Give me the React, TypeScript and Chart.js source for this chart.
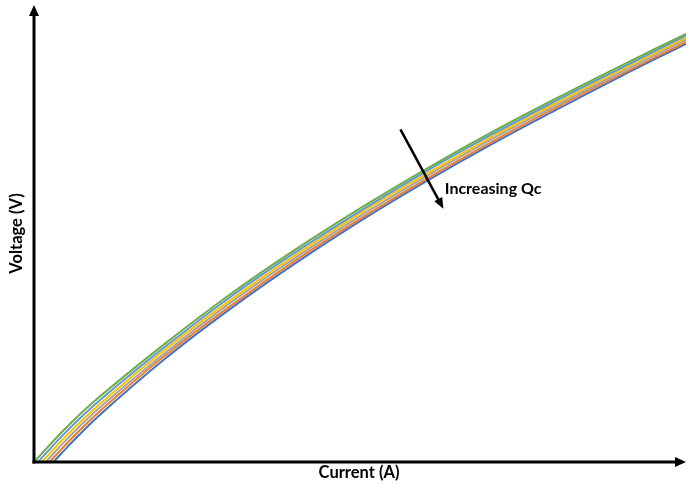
import React, { useEffect, useRef } from "react";
import { Chart, registerables } from "chart.js";

Chart.register(...registerables);

// Current (A) sample points shared by every curve after its own starting point
const currentSteps = [0.5, 1, 2, 3, 4, 5, 6, 7, 8, 9, 10];

// Where each curve leaves the current axis (V = 0)
const startCurrents = [0, 0.06, 0.12, 0.18, 0.24, 0.3];

// Voltage (V) for each Qc value, highest Qc first
const voltageQc6 = [0.76, 1.42, 2.58, 3.66, 4.64, 5.55, 6.4, 7.2, 7.95, 8.67, 9.37];
const voltageQc5 = [0.67, 1.34, 2.51, 3.6, 4.58, 5.49, 6.35, 7.15, 7.9, 8.62, 9.33];
const voltageQc4 = [0.58, 1.26, 2.45, 3.53, 4.52, 5.44, 6.29, 7.1, 7.85, 8.58, 9.28];
const voltageQc3 = [0.49, 1.18, 2.38, 3.47, 4.46, 5.38, 6.24, 7.05, 7.8, 8.53, 9.24];
const voltageQc2 = [0.4, 1.1, 2.32, 3.4, 4.4, 5.32, 6.18, 6.99, 7.75, 8.48, 9.19];
const voltageQc1 = [0.31, 1.02, 2.25, 3.34, 4.34, 5.27, 6.13, 6.94, 7.7, 8.44, 9.15];

const seriesVoltages = [voltageQc6, voltageQc5, voltageQc4, voltageQc3, voltageQc2, voltageQc1];
const seriesColors = ["#70AD47", "#5B9BD5", "#FFC000", "#A5A5A5", "#ED7D31", "#4472C4"];

const xTitle = "Current (A)";
const yTitle = "Voltage (V)";
const noteText = "Increasing Qc";
// Annotation arrow in data units: tail and head
const noteTail = { x: 5.62, y: 7.28 };
const noteHead = { x: 6.28, y: 5.54 };
const noteLabel = { x: 6.3, y: 5.97 };

const X_MAX = 10;
const Y_MAX = 10;

function arrowHead(ctx: CanvasRenderingContext2D, tx: number, ty: number, angle: number, len: number, half: number) {
  ctx.save();
  ctx.translate(tx, ty);
  ctx.rotate(angle);
  ctx.beginPath();
  ctx.moveTo(0, 0);
  ctx.lineTo(-len, -half);
  ctx.lineTo(-len, half);
  ctx.closePath();
  ctx.fill();
  ctx.restore();
}

const axesPlugin = {
  id: "arrowAxes",
  afterDatasetsDraw(chart: any) {
    const { ctx, chartArea } = chart;
    const { left, right, top, bottom } = chartArea;
    const xs = chart.scales.x;
    const ys = chart.scales.y;
    ctx.save();
    ctx.strokeStyle = "#000";
    ctx.fillStyle = "#000";
    ctx.lineWidth = 3;
    ctx.lineCap = "butt";
    // vertical axis
    ctx.beginPath();
    ctx.moveTo(left, bottom + 1.5);
    ctx.lineTo(left, top + 8);
    ctx.stroke();
    arrowHead(ctx, left, top, -Math.PI / 2, 11, 5);
    // horizontal axis
    ctx.beginPath();
    ctx.moveTo(left - 1.5, bottom);
    ctx.lineTo(right - 8, bottom);
    ctx.stroke();
    arrowHead(ctx, right, bottom, 0, 11, 5);

    // axis titles
    ctx.font = "bold 16.5px Lato, 'Open Sans', sans-serif";
    ctx.textAlign = "center";
    ctx.textBaseline = "middle";
    ctx.fillText(xTitle, (left + right) / 2 - 1, bottom + 11);
    ctx.save();
    ctx.translate(left - 17, (top + bottom) / 2);
    ctx.rotate(-Math.PI / 2);
    ctx.fillText(yTitle, 0, 0);
    ctx.restore();

    // Qc direction arrow
    const x1 = xs.getPixelForValue(noteTail.x);
    const y1 = ys.getPixelForValue(noteTail.y);
    const x2 = xs.getPixelForValue(noteHead.x);
    const y2 = ys.getPixelForValue(noteHead.y);
    const ang = Math.atan2(y2 - y1, x2 - x1);
    ctx.lineWidth = 2.5;
    ctx.beginPath();
    ctx.moveTo(x1, y1);
    ctx.lineTo(x2 - Math.cos(ang) * 8, y2 - Math.sin(ang) * 8);
    ctx.stroke();
    arrowHead(ctx, x2, y2, ang, 11, 4.5);

    ctx.font = "bold 16px Lato, 'Open Sans', sans-serif";
    ctx.textAlign = "left";
    ctx.fillText(noteText, xs.getPixelForValue(noteLabel.x), ys.getPixelForValue(noteLabel.y));
    ctx.restore();
  },
};

export default function App() {
  const canvasRef = useRef<HTMLCanvasElement | null>(null);

  useEffect(() => {
    document.body.style.margin = "0";
    const canvas = canvasRef.current;
    if (!canvas) return;

    const datasets = seriesVoltages.map((volts, i) => ({
      label: `Qc ${seriesVoltages.length - i}`,
      data: [{ x: startCurrents[i], y: 0 }, ...currentSteps.map((c, j) => ({ x: c, y: volts[j] }))],
      borderColor: seriesColors[i],
      backgroundColor: seriesColors[i],
      borderWidth: 2,
      pointRadius: 0,
      fill: false,
      tension: 0.4,
    }));

    const chart = new Chart(canvas, {
      type: "line",
      data: { datasets },
      options: {
        animation: false,
        responsive: false,
        maintainAspectRatio: false,
        layout: { padding: { left: 34, top: 5, right: 7, bottom: 23 } },
        plugins: { legend: { display: false }, tooltip: { enabled: false } },
        scales: {
          x: { type: "linear", min: 0, max: X_MAX, display: false },
          y: { type: "linear", min: 0, max: Y_MAX, display: false },
        },
      },
      plugins: [axesPlugin],
    });
    return () => chart.destroy();
  }, []);

  return (
    <div style={{ position: "absolute", left: 0, top: 0, width: 693, height: 485, background: "#fff" }}>
      <canvas ref={canvasRef} width={693} height={485} style={{ width: 693, height: 485 }} />
    </div>
  );
}
